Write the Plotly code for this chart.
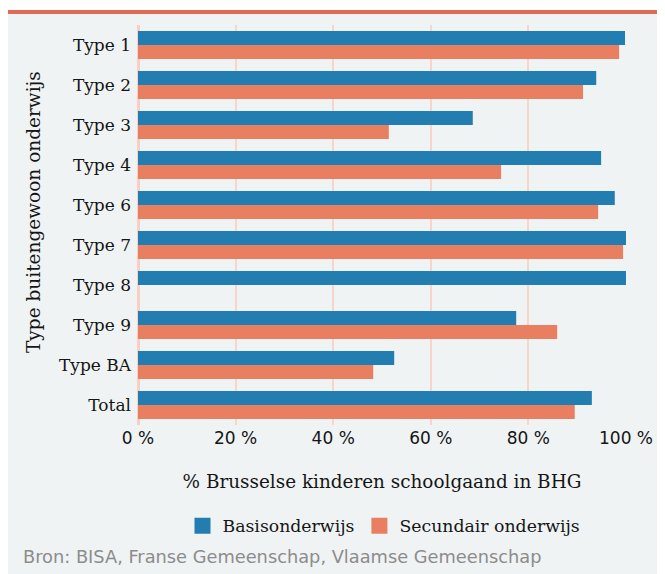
import plotly.graph_objects as go

categories = ["Type 1", "Type 2", "Type 3", "Type 4", "Type 6", "Type 7", "Type 8", "Type 9", "Type BA", "Total"]
basis = [99.8, 93.9, 68.6, 94.9, 97.7, 100.0, 100.0, 77.5, 52.5, 93.0]
secundair = [98.6, 91.2, 51.4, 74.4, 94.3, 99.4, None, 85.9, 48.2, 89.5]
x_ticks = [0, 20, 40, 60, 80, 100]
x_tick_labels = ["0 %", "20 %", "40 %", "60 %", "80 %", "100 %"]

# the page adds an 8px body margin: figure is drawn 8px in from the top-left
OFF = 8
W, H = 665 - OFF, 574 - OFF
L, R, T, B = 138 - OFF, 39, 25 - OFF, 149
PW, PH = W - L - R, H - T - B

def px(x):  # page pixel -> paper
    return (x - OFF - L) / PW

def py(y):
    return (H - B - (y - OFF)) / PH

BLUE = "#227db1"
ORANGE = "#e87f60"
BG = "#eff3f4"
SERIF = "DejaVu Serif"
SANS = "DejaVu Sans"
INK = "#151515"

fig = go.Figure()
fig.add_trace(go.Bar(y=categories, x=basis, orientation="h", name="Basisonderwijs",
                     marker=dict(color=BLUE, line=dict(width=0)), showlegend=False))
fig.add_trace(go.Bar(y=categories, x=secundair, orientation="h", name="Secundair onderwijs",
                     marker=dict(color=ORANGE, line=dict(width=0)), showlegend=False))
fig.add_trace(go.Scatter(x=[None], y=[None], mode="markers", name="Basisonderwijs",
                         marker=dict(symbol="square", size=22, color=BLUE)))
fig.add_trace(go.Scatter(x=[None], y=[None], mode="markers", name="Secundair onderwijs",
                         marker=dict(symbol="square", size=22, color=ORANGE)))

shapes = [
    dict(type="rect", xref="paper", yref="paper", x0=px(6), x1=px(680), y0=py(590), y1=py(14),
         fillcolor=BG, line=dict(width=0), layer="below"),
    dict(type="rect", xref="paper", yref="paper", x0=px(6), x1=px(680), y0=py(14), y1=py(10),
         fillcolor="#df6b54", line=dict(width=0), layer="below"),
]

annotations = [
    dict(text="Type buitengewoon onderwijs", xref="paper", yref="paper", x=px(33), y=py(212),
         xanchor="center", yanchor="middle", textangle=-90, showarrow=False,
         font=dict(family=SERIF, size=18.5, color=INK)),
    dict(text="Bron: BISA, Franse Gemeenschap, Vlaamse Gemeenschap", xref="paper", yref="paper",
         x=px(21), y=py(556), xanchor="left", yanchor="middle", showarrow=False,
         font=dict(family=SANS, size=17.8, color="#8c8c8c")),
]

fig.update_layout(
    width=W, height=H,
    margin=dict(l=L, r=R, t=T, b=B, autoexpand=False),
    paper_bgcolor="white", plot_bgcolor="rgba(0,0,0,0)",
    barmode="group", bargap=0.3, bargroupgap=0,
    shapes=shapes, annotations=annotations,
    legend=dict(orientation="h", x=px(384), xanchor="center", y=py(526), yanchor="middle",
                font=dict(family=SERIF, size=17.3, color=INK), itemsizing="trace",
                bgcolor="rgba(0,0,0,0)", itemwidth=30, traceorder="normal"),
    xaxis=dict(range=[0, 100], tickvals=x_ticks, ticktext=x_tick_labels,
               showgrid=True, gridcolor="#f6d6ca", gridwidth=2,
               zeroline=True, zerolinecolor="#f6d0c2", zerolinewidth=3,
               showline=False, ticks="", ticklabelstandoff=1,
               tickfont=dict(family=SANS, size=17, color=INK),
               title=dict(text="% Brusselse kinderen schoolgaand in BHG", standoff=28,
                          font=dict(family=SERIF, size=18.4, color=INK)),
               automargin=False, fixedrange=True),
    yaxis=dict(categoryorder="array", categoryarray=categories, autorange="reversed",
               showgrid=False, zeroline=False, showline=False, ticks="",
               ticklabelstandoff=6,
               tickfont=dict(family=SERIF, size=17, color=INK),
               automargin=False, fixedrange=True),
)

fig.write_html("out.html")
